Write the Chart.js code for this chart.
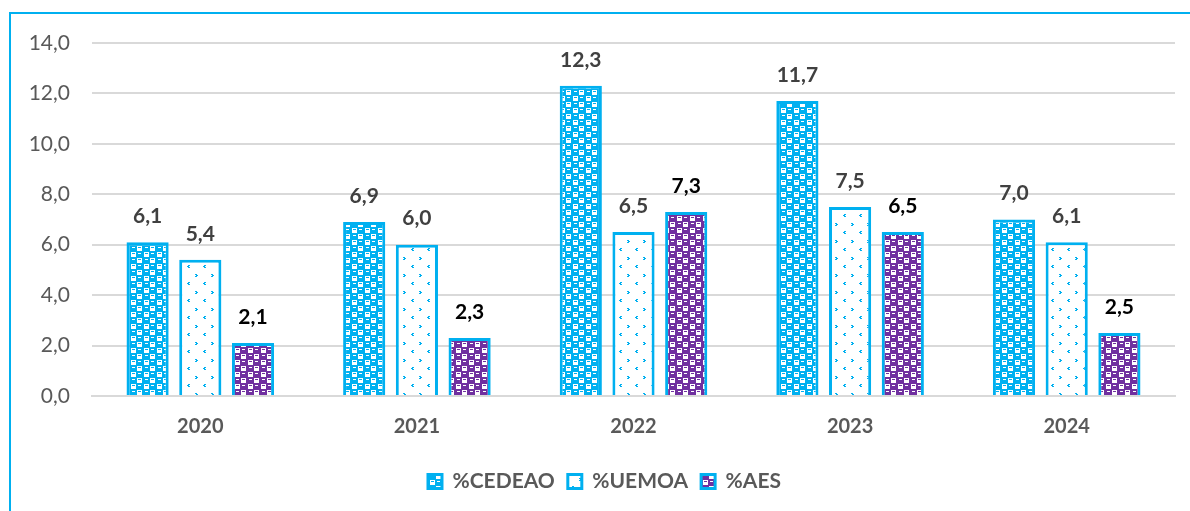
<!DOCTYPE html>
<html><head><meta charset="utf-8">
<script src="https://cdn.jsdelivr.net/npm/chart.js@4"></script>
<style>
html,body{margin:0;padding:0;background:#fff;}
#wrap{position:relative;width:1190px;height:511px;}
#frame{position:absolute;left:9px;top:12px;width:1181px;height:499px;border-left:2px solid #00B0F0;border-top:2px solid #00B0F0;box-sizing:border-box;pointer-events:none;}
canvas{position:absolute;left:0;top:0;}
</style></head>
<body><div id="wrap"><canvas id="c" width="1190" height="511"></canvas><div id="frame"></div></div>
<script>
const categories = ['2020','2021','2022','2023','2024'];
const seriesNames = ['%CEDEAO','%UEMOA','%AES'];
const cedeao = [6.1, 6.9, 12.3, 11.7, 7.0];
const uemoa = [5.4, 6.0, 6.5, 7.5, 6.1];
const aes = [2.1, 2.3, 7.3, 6.5, 2.5];
const yTicks = [0,2,4,6,8,10,12,14];

const CYAN = '#00B0F0', PURPLE = '#7030A0';

function checker(bg){
  const t = document.createElement('canvas'); t.width = 13; t.height = 12;
  const g = t.getContext('2d');
  g.fillStyle = bg; g.fillRect(0,0,13,12);
  g.fillStyle = '#fff';
  g.fillRect(1,0,5,5); g.fillRect(7,6,5,5);
  g.fillStyle = bg; g.fillRect(2,1,3,1); g.fillRect(8,7,3,1);
  g.fillStyle = '#fff'; g.fillRect(8,1,3,1); g.fillRect(2,7,3,1);
  return g.createPattern(t,'repeat');
}
function dots(){
  const t = document.createElement('canvas'); t.width = 16; t.height = 17;
  const g = t.getContext('2d');
  g.fillStyle = '#fff'; g.fillRect(0,0,16,17);
  g.fillStyle = CYAN;
  g.fillRect(3,2,2,1); g.fillRect(4,3,2,1); g.fillRect(3,4,2,1);
  g.fillRect(12,10,2,1); g.fillRect(11,11,2,1); g.fillRect(12,12,2,1);
  return g.createPattern(t,'repeat');
}
const pats = [checker(CYAN), dots(), checker(PURPLE)];
const labelColors = ['#404040','#404040','#000000'];
const FONT = 'Lato, "Open Sans", sans-serif';

const valueLabels = {
  id:'valueLabels',
  afterDatasetsDraw(chart){
    const ctx = chart.ctx;
    ctx.save();
    ctx.font = 'bold 21px ' + FONT;
    ctx.textAlign = 'center'; ctx.textBaseline = 'middle';
    chart.data.datasets.forEach((ds,i)=>{
      chart.getDatasetMeta(i).data.forEach((bar,j)=>{
        ctx.fillStyle = labelColors[i];
        ctx.fillText(ds.data[j].toFixed(1).replace('.',','), bar.x, bar.y - 26);
      });
    });
    ctx.restore();
  }
};
const legendShift = {
  id:'legendShift',
  afterLayout(chart){ if(chart.legend){ chart.legend.left += 17; chart.legend.right += 17; } }
};

const data = [cedeao, uemoa, aes];
new Chart(document.getElementById('c'), {
  type:'bar',
  data:{
    labels: categories,
    datasets: seriesNames.map((n,i)=>({
      label:n, data:data[i], backgroundColor:pats[i], borderColor:CYAN, borderWidth:3,
      barPercentage:0.8, categoryPercentage:0.73
    }))
  },
  options:{
    responsive:false, animation:false,
    layout:{padding:{left:0,right:15,top:43,bottom:9}},
    plugins:{
      tooltip:{enabled:false},
      legend:{position:'bottom',
        labels:{boxWidth:14,boxHeight:14,color:'#595959',font:{family:FONT,size:21,weight:'bold'},padding:13}}
    },
    scales:{
      x:{grid:{display:false,drawTicks:false},border:{display:true,color:'#d9d9d9',width:2},
         ticks:{color:'#595959',font:{family:FONT,size:20,weight:'bold'},padding:19}},
      y:{min:0,max:14,
         afterFit(s){s.width=92;},
         afterBuildTicks(s){s.ticks = yTicks.map(v=>({value:v}));},
         grid:{color:'#d9d9d9',lineWidth:2,drawTicks:false},border:{display:false},
         ticks:{color:'#595959',font:{family:FONT,size:21},padding:22,
           callback:v=>Number(v).toFixed(1).replace('.',',')}}
    }
  },
  plugins:[valueLabels, legendShift]
});
</script></body></html>
